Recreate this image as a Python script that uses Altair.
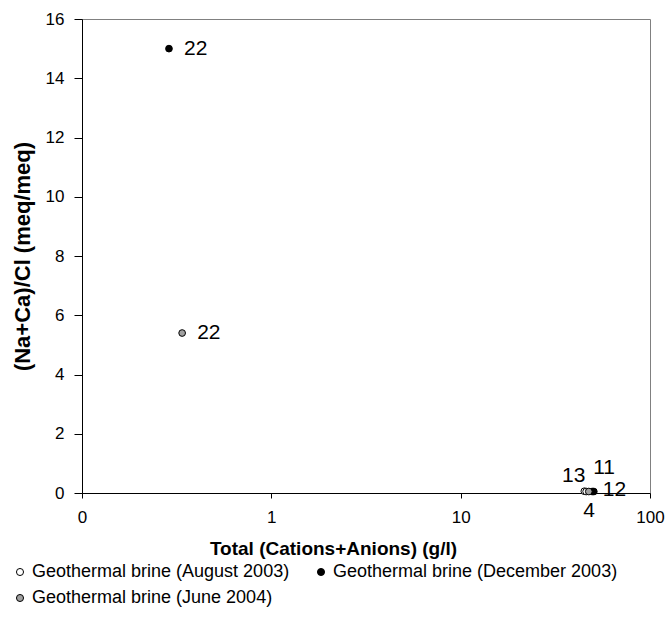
import altair as alt
import pandas as pd

series_names = [
    "Geothermal brine (August 2003)",
    "Geothermal brine (June 2004)",
    "Geothermal brine (December 2003)",
]
series_fill = ["#ffffff", "#a0a0a0", "#000000"]

sample_series = [
    "Geothermal brine (August 2003)",
    "Geothermal brine (August 2003)",
    "Geothermal brine (June 2004)",
    "Geothermal brine (June 2004)",
    "Geothermal brine (December 2003)",
    "Geothermal brine (December 2003)",
    "Geothermal brine (December 2003)",
]
total_gl = [45.0, 46.0, 0.338, 47.5, 0.288, 49.5, 50.5]
ratio = [0.06, 0.05, 5.40, 0.05, 15.0, 0.05, 0.05]
sample_label = ["13", "4", "22", "", "22", "11", "12"]

x_ticks = [0.1, 1, 10, 100]
y_ticks = [0, 2, 4, 6, 8, 10, 12, 14, 16]

df = pd.DataFrame({
    "series": sample_series,
    "total": total_gl,
    "ratio": ratio,
    "label": sample_label,
})

FONT = "Liberation Sans"

x_enc = alt.X(
    "total:Q",
    scale=alt.Scale(type="log", domain=[0.1, 100], nice=False),
    axis=alt.Axis(
        values=x_ticks,
        labelExpr="datum.value < 1 ? '0' : format(datum.value, 'd')",
        labelFlush=False,
        tickSize=5,
        labelPadding=11,
        title="Total (Cations+Anions) (g/l)",
        titleX=251,
        titleY=55,
        titleBaseline="middle",
        titleAlign="center",
    ),
)
y_enc = alt.Y(
    "ratio:Q",
    scale=alt.Scale(domain=[0, 16], nice=False),
    axis=alt.Axis(
        values=y_ticks,
        labelFlush=False,
        tickSize=8,
        labelPadding=10,
        title="(Na+Ca)/Cl (meq/meq)",
        titlePadding=11,
        titleFontSize=22,
    ),
)

base = alt.Chart(df)

points = base.mark_point(
    filled=True, stroke="#000000", strokeWidth=1, size=45, opacity=1, shape="circle"
).encode(
    x=x_enc,
    y=y_enc,
    fill=alt.Fill(
        "series:N",
        scale=alt.Scale(domain=series_names, range=series_fill),
        legend=alt.Legend(
            title=None,
            orient="none",
            legendX=-71,
            legendY=544,
            columns=2,
            columnPadding=22,
            rowPadding=8,
            labelFont=FONT,
            labelFontSize=18,
            labelColor="#000000",
            labelOffset=3,
            labelLimit=0,
            symbolType="circle",
            symbolSize=50,
            symbolStrokeColor="#000000",
            symbolStrokeWidth=1,
            padding=0,
        ),
    ),
    order=alt.Order("series:N"),
)

def label_layer(values, align, dx, dy):
    return base.transform_filter(
        alt.FieldOneOfPredicate(field="label", oneOf=values)
    ).mark_text(
        font=FONT, fontSize=21, color="#000000", align=align, baseline="middle", dx=dx, dy=dy
    ).encode(x="total:Q", y="ratio:Q", text="label:N")

labels_right = label_layer(["22"], "left", 15, 0)
label_12 = label_layer(["12"], "left", 9, -2)
label_11 = label_layer(["11"], "left", 1, -24)
label_13 = label_layer(["13"], "right", 1, -15)
label_4 = label_layer(["4"], "center", 3, 19)

chart = alt.layer(
    points, labels_right, label_12, label_11, label_13, label_4
).properties(
    width=568,
    height=474,
    autosize=alt.AutoSizeParams(type="none"),
    padding={"left": 82, "top": 19, "right": 18, "bottom": 143},
    background="#ffffff",
).configure_view(
    stroke="#808080", strokeWidth=1
).configure_axis(
    grid=False,
    domainColor="#000000",
    domainWidth=1,
    tickColor="#000000",
    tickWidth=1,
    labelFont=FONT,
    labelFontSize=17,
    labelColor="#000000",
    titleFont=FONT,
    titleFontSize=19,
    titleFontWeight="bold",
    titleColor="#000000",
)

chart.save("out.html", embed_options={"renderer": "svg", "actions": False})
